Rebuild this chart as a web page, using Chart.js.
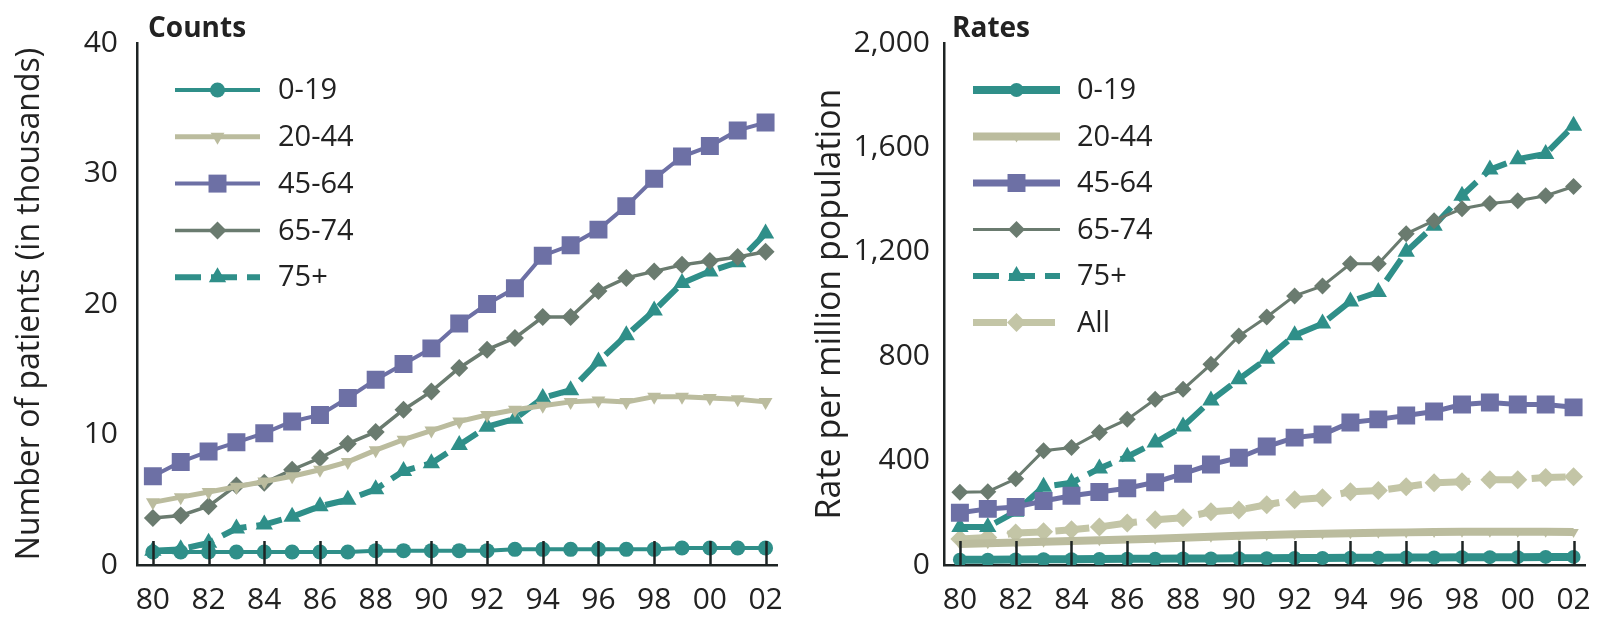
<!DOCTYPE html>
<html>
<head>
<meta charset="utf-8">
<script src="https://cdn.jsdelivr.net/npm/chart.js@4.4.1/dist/chart.umd.min.js"></script>
<style>
    html, body { margin: 0; padding: 0; background: #fff; }
    #wrap { position: relative; width: 1608px; height: 618px; overflow: hidden; }
    .box { position: absolute; top: 0; height: 618px; }
    #leftBox { left: 0; width: 800px; }
    #rightBox { left: 800px; width: 808px; }
</style>
</head>
<body>
<div id="wrap">
    <div class="box" id="leftBox"><canvas id="countsChart"></canvas></div>
    <div class="box" id="rightBox"><canvas id="ratesChart"></canvas></div>
</div>
<script>
// years 1980..2002
const years = [1980, 1981, 1982, 1983, 1984, 1985, 1986, 1987, 1988, 1989, 1990, 1991,
    1992, 1993, 1994, 1995, 1996, 1997, 1998, 1999, 2000, 2001, 2002];
const xTickYears = [1980, 1982, 1984, 1986, 1988, 1990, 1992, 1994, 1996, 1998, 2000, 2002];
const xTickLabels = ['80', '82', '84', '86', '88', '90', '92', '94', '96', '98', '00', '02'];

const ageGroups = ['0-19', '20-44', '45-64', '65-74', '75+', 'All'];

// Counts, patients in thousands
const counts0_19 = [1.0, 1.0, 1.0, 1.0, 1.0, 1.0, 1.0, 1.0, 1.1, 1.1, 1.1, 1.1, 1.1, 1.2, 1.2, 1.2, 1.2, 1.2, 1.2, 1.3, 1.3, 1.3, 1.3];
const counts20_44 = [4.8, 5.2, 5.6, 6.0, 6.4, 6.8, 7.3, 7.9, 8.8, 9.6, 10.3, 11.0, 11.5, 11.9, 12.2, 12.5, 12.6, 12.5, 12.9, 12.9, 12.8, 12.7, 12.5];
const counts45_64 = [6.8, 7.9, 8.7, 9.4, 10.1, 11.0, 11.5, 12.8, 14.2, 15.4, 16.6, 18.5, 20.0, 21.2, 23.7, 24.5, 25.7, 27.5, 29.6, 31.3, 32.1, 33.3, 33.9];
const counts65_74 = [3.6, 3.8, 4.5, 6.1, 6.3, 7.3, 8.2, 9.3, 10.2, 11.9, 13.3, 15.1, 16.5, 17.4, 19.0, 19.0, 21.0, 22.0, 22.5, 23.0, 23.3, 23.6, 24.0];
const counts75plus = [1.1, 1.2, 1.7, 2.8, 3.1, 3.7, 4.5, 5.0, 5.8, 7.2, 7.8, 9.2, 10.6, 11.2, 12.8, 13.4, 15.6, 17.6, 19.5, 21.6, 22.5, 23.2, 25.4];

// Rates per million population
const rates0_19 = [20, 20, 21, 22, 22, 23, 24, 24, 25, 25, 26, 26, 27, 27, 28, 28, 29, 29, 30, 30, 30, 31, 31];
const rates20_44 = [80, 83, 86, 89, 92, 95, 98, 101, 104, 108, 112, 115, 118, 120, 122, 124, 125, 126, 127, 127, 127, 127, 126];
const rates45_64 = [200, 215, 222, 245, 265, 280, 294, 317, 350, 385, 411, 454, 488, 500, 546, 558, 573, 588, 615, 623, 615, 615, 604];
const rates65_74 = [279, 281, 330, 438, 450, 508, 558, 635, 673, 769, 877, 950, 1031, 1069, 1154, 1154, 1269, 1319, 1365, 1385, 1396, 1415, 1450];
const rates75plus = [146, 146, 204, 300, 315, 370, 415, 469, 531, 630, 712, 790, 880, 925, 1010, 1046, 1200, 1300, 1415, 1515, 1555, 1575, 1683];
const ratesAll = [100, 105, 123, 127, 135, 146, 161, 173, 181, 204, 211, 231, 250, 258, 281, 285, 300, 315, 319, 327, 327, 335, 338];

const TEAL = '#2f8f89';
const KHAKI = '#bbbc9e';
const KHAKI_LIGHT = '#c3c5a6';
const PURPLE = '#6d70a5';
const GREYGREEN = '#6a7b6f';
const AXIS = '#1e2424';

Chart.defaults.font.family = "'Open Sans', 'Noto Sans', sans-serif";
Chart.defaults.color = '#222';

function pts(values) {
    return values.map((v, i) => ({ x: years[i], y: v }));
}

function series(label, values, color, style) {
    return Object.assign({
        label: label,
        data: pts(values),
        borderColor: color,
        backgroundColor: color,
        pointBackgroundColor: color,
        pointBorderColor: color,
        pointBorderWidth: 0,
        borderWidth: 3,
        tension: 0
    }, style);
}

// inward ticks on the x axis, drawn over the lines
const insideTicks = {
    id: 'insideTicks',
    afterDatasetsDraw(chart) {
        const ctx = chart.ctx;
        const xs = chart.scales.x;
        const bottom = chart.chartArea.bottom;
        ctx.save();
        ctx.strokeStyle = AXIS;
        ctx.lineWidth = 2.5;
        ctx.beginPath();
        xTickYears.forEach(v => {
            const px = Math.round(xs.getPixelForValue(v)) + 0.5;
            ctx.moveTo(px, bottom);
            ctx.lineTo(px, bottom - 24);
        });
        ctx.stroke();
        ctx.restore();
    }
};

// legend with line + marker, plus the panel title
const innerLegend = {
    id: 'innerLegend',
    afterDraw(chart, args, opts) {
        const ctx = chart.ctx;
        ctx.save();
        ctx.fillStyle = '#222';
        ctx.font = "bold 28px 'Open Sans'";
        ctx.textBaseline = 'alphabetic';
        ctx.fillText(opts.title, opts.titleX, opts.titleY);

        chart.data.datasets.forEach((ds, i) => {
            const y = opts.y0 + i * opts.dy;
            ctx.strokeStyle = ds.borderColor;
            ctx.lineWidth = ds.legendWidth || ds.borderWidth;
            ctx.setLineDash(ds.borderDash || []);
            ctx.beginPath();
            ctx.moveTo(opts.x1, y);
            ctx.lineTo(opts.x2, y);
            ctx.stroke();
            ctx.setLineDash([]);
            ctx.fillStyle = ds.pointBackgroundColor;
            Chart.helpers.drawPoint(ctx, {
                pointStyle: ds.pointStyle,
                rotation: ds.pointRotation || 0,
                radius: ds.legendRadius || ds.pointRadius,
                borderWidth: 0
            }, (opts.x1 + opts.x2) / 2, y);
            ctx.fillStyle = '#222';
            ctx.font = "29px 'Open Sans'";
            ctx.textBaseline = 'middle';
            ctx.fillText(ds.label, opts.textX, y + 1);
        });
        ctx.restore();
    }
};

function makeOptions(cfg) {
    return {
        responsive: true,
        maintainAspectRatio: false,
        animation: false,
        layout: { padding: { top: 43, right: cfg.right, left: 0, bottom: 0 } },
        plugins: {
            legend: { display: false },
            tooltip: { enabled: false },
            innerLegend: cfg.legend
        },
        scales: {
            x: {
                type: 'linear',
                min: 1979.43,
                max: 2002.43,
                afterBuildTicks: scale => {
                    scale.ticks = xTickYears.map(v => ({ value: v }));
                },
                afterFit: scale => { scale.height = 53; },
                grid: { display: false, drawTicks: false },
                border: { display: true, color: AXIS, width: 2.5 },
                ticks: {
                    autoSkip: false,
                    maxRotation: 0,
                    padding: 17,
                    font: { size: 30 },
                    color: '#222',
                    callback: v => xTickLabels[xTickYears.indexOf(v)]
                }
            },
            y: {
                min: 0,
                max: cfg.yMax,
                afterFit: scale => { scale.width = cfg.yWidth; },
                grid: { display: false, drawTicks: false },
                border: { display: true, color: AXIS, width: 2.5 },
                ticks: {
                    stepSize: cfg.yStep,
                    padding: cfg.yPad,
                    font: { size: 30 },
                    color: '#222'
                },
                title: {
                    display: true,
                    text: cfg.yTitle,
                    font: { size: cfg.yTitleSize },
                    color: '#222',
                    padding: { top: cfg.yTitlePad, bottom: 0 }
                }
            }
        }
    };
}

function createCharts() {
    const ctx1 = document.getElementById('countsChart').getContext('2d');
    const ctx2 = document.getElementById('ratesChart').getContext('2d');

    new Chart(ctx1, {
        type: 'line',
        data: {
            datasets: [
                series(ageGroups[0], counts0_19, TEAL, { pointStyle: 'circle', pointRadius: 7.5, borderWidth: 4 }),
                series(ageGroups[1], counts20_44, KHAKI, { pointStyle: 'triangle', pointRotation: 180, pointRadius: 8, borderWidth: 5 }),
                series(ageGroups[2], counts45_64, PURPLE, { pointStyle: 'rect', pointRadius: 12.7, borderWidth: 4 }),
                series(ageGroups[3], counts65_74, GREYGREEN, { pointStyle: 'rectRot', pointRadius: 9, borderWidth: 3.5 }),
                series(ageGroups[4], counts75plus, TEAL, { pointStyle: 'triangle', pointRadius: 10, borderWidth: 6, borderDash: [26, 10] })
            ]
        },
        options: makeOptions({
            right: 15, yMax: 40, yStep: 10, yWidth: 137, yPad: 19,
            yTitle: 'Number of patients (in thousands)', yTitleSize: 32, yTitlePad: 11,
            legend: { title: 'Counts', titleX: 148, titleY: 37, x1: 175, x2: 260, textX: 278, y0: 90, dy: 46.8 }
        }),
        plugins: [insideTicks, innerLegend]
    });

    new Chart(ctx2, {
        type: 'line',
        data: {
            datasets: [
                series(ageGroups[0], rates0_19, TEAL, { pointStyle: 'circle', pointRadius: 7, borderWidth: 8 }),
                series(ageGroups[1], rates20_44, KHAKI, { pointStyle: 'triangle', pointRotation: 180, pointRadius: 6, borderWidth: 8 }),
                series(ageGroups[2], rates45_64, PURPLE, { pointStyle: 'rect', pointRadius: 12.7, borderWidth: 5, legendWidth: 7 }),
                series(ageGroups[3], rates65_74, GREYGREEN, { pointStyle: 'rectRot', pointRadius: 8.5, borderWidth: 3 }),
                series(ageGroups[4], rates75plus, TEAL, { pointStyle: 'triangle', pointRadius: 10, borderWidth: 6, borderDash: [26, 10] }),
                series(ageGroups[5], ratesAll, KHAKI_LIGHT, { pointStyle: 'rectRot', pointRadius: 9.5, borderWidth: 7, borderDash: [34, 14] })
            ]
        },
        options: makeOptions({
            right: 15, yMax: 2000, yStep: 400, yWidth: 144, yPad: 14,
            yTitle: 'Rate per million population', yTitleSize: 34, yTitlePad: 10,
            legend: { title: 'Rates', titleX: 152, titleY: 37, x1: 173, x2: 260, textX: 277, y0: 90, dy: 46.5 }
        }),
        plugins: [insideTicks, innerLegend]
    });
}

window.addEventListener('load', createCharts);
</script>
</body>
</html>
